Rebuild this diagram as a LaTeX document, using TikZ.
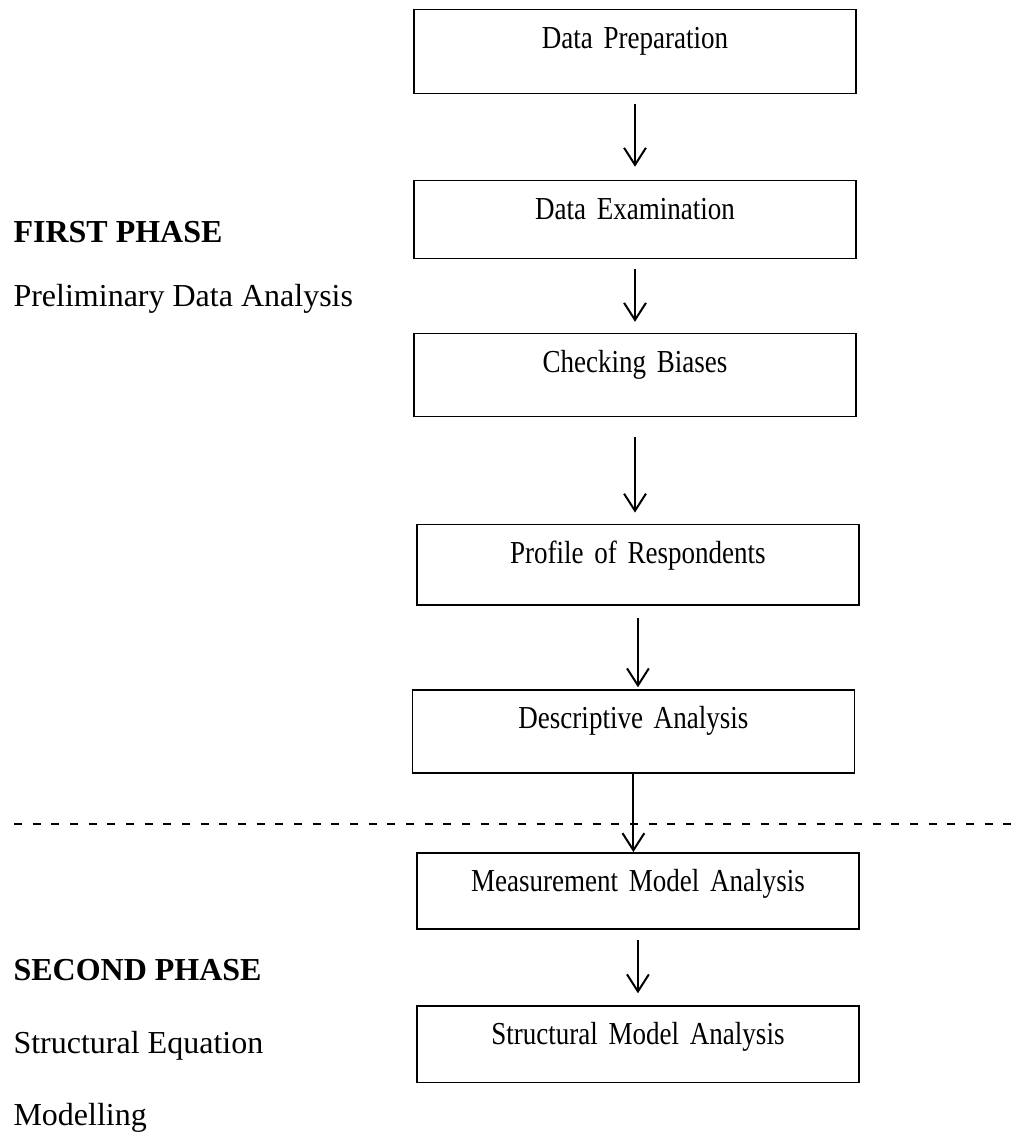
\documentclass[tikz,border=0pt]{standalone}
\usepackage{fontspec}
\setmainfont{Liberation Serif}
\newfontfamily\narrowserif[FakeStretch=0.845, WordSpace=0.85]{Liberation Serif}
\usepackage{tikz}
\usetikzlibrary{arrows.meta, positioning}

\begin{document}
\begin{tikzpicture}[
    x=0.375pt, y=-0.375pt,
    font=\fontsize{12}{14}\selectfont,
    stepbox/.style={rectangle, draw=black, line width=0.55pt, inner sep=0pt,
                    font=\fontsize{12}{14}\selectfont\narrowserif,
                    text width=165.75pt, align=center, text height=14.6pt, text depth=16.5pt},
    phaselbl/.style={anchor=base west, inner sep=0pt},
    arr/.style={-{Straight Barb[length=6.4pt, width=8.2pt]}, line width=0.75pt},
    sepline/.style={line width=0.7pt, dash pattern=on 3pt off 4pt},
]
\useasboundingbox (0,0) rectangle (1011,1137);

\node[stepbox, anchor=north, text depth=16.9pt] (prep) at (635,9) {Data Preparation};
\node[stepbox, below=32pt of prep, text depth=14.7pt] (exam) {Data Examination};
\node[stepbox, below=27.5pt of exam] (bias) {Checking Biases};
\node[stepbox, below=39.9pt of bias, xshift=1.1pt, text depth=15.7pt] (prof) {Profile of Respondents};
\node[stepbox, below=31.3pt of prof, xshift=-1.7pt] (desc) {Descriptive Analysis};
\node[stepbox, below=29.4pt of desc, xshift=1.7pt, text depth=14pt] (meas) {Measurement Model Analysis};
\node[stepbox, below=28.3pt of meas, text depth=14pt] (struc) {Structural Model Analysis};

\node[phaselbl, font=\fontsize{12}{14}\selectfont\bfseries] (ph1) at (13,243) {FIRST PHASE};
\node[phaselbl] (ph1d) at (13,306) {Preliminary Data Analysis};
\node[phaselbl, font=\fontsize{12}{14}\selectfont\bfseries] (ph2) at (13,980) {SECOND PHASE};
\node[phaselbl] (ph2a) at (13,1053) {Structural Equation};
\node[phaselbl] (ph2b) at (13,1125) {Modelling};

\coordinate (sepL) at (14,824);
\coordinate (sepR) at (1011,824);
\draw[sepline] (sepL) -- (sepR);

\draw[arr, shorten <=3.75pt, shorten >=4.9pt] (prep.south) -- (exam.north);
\draw[arr, shorten <=3.75pt, shorten >=4.1pt] (exam.south) -- (bias.north);
\draw[arr, shorten <=7.5pt, shorten >=4.1pt] (bias.south) -- (bias.south |- prof.north);
\draw[arr, shorten <=4.5pt, shorten >=0.75pt] (prof.south) -- (prof.south |- desc.north);
\draw[arr] (desc.south) -- (desc.south |- meas.north);
\draw[arr, shorten <=3.75pt, shorten >=4.5pt] (meas.south) -- (struc.north);

\end{tikzpicture}
\end{document}
